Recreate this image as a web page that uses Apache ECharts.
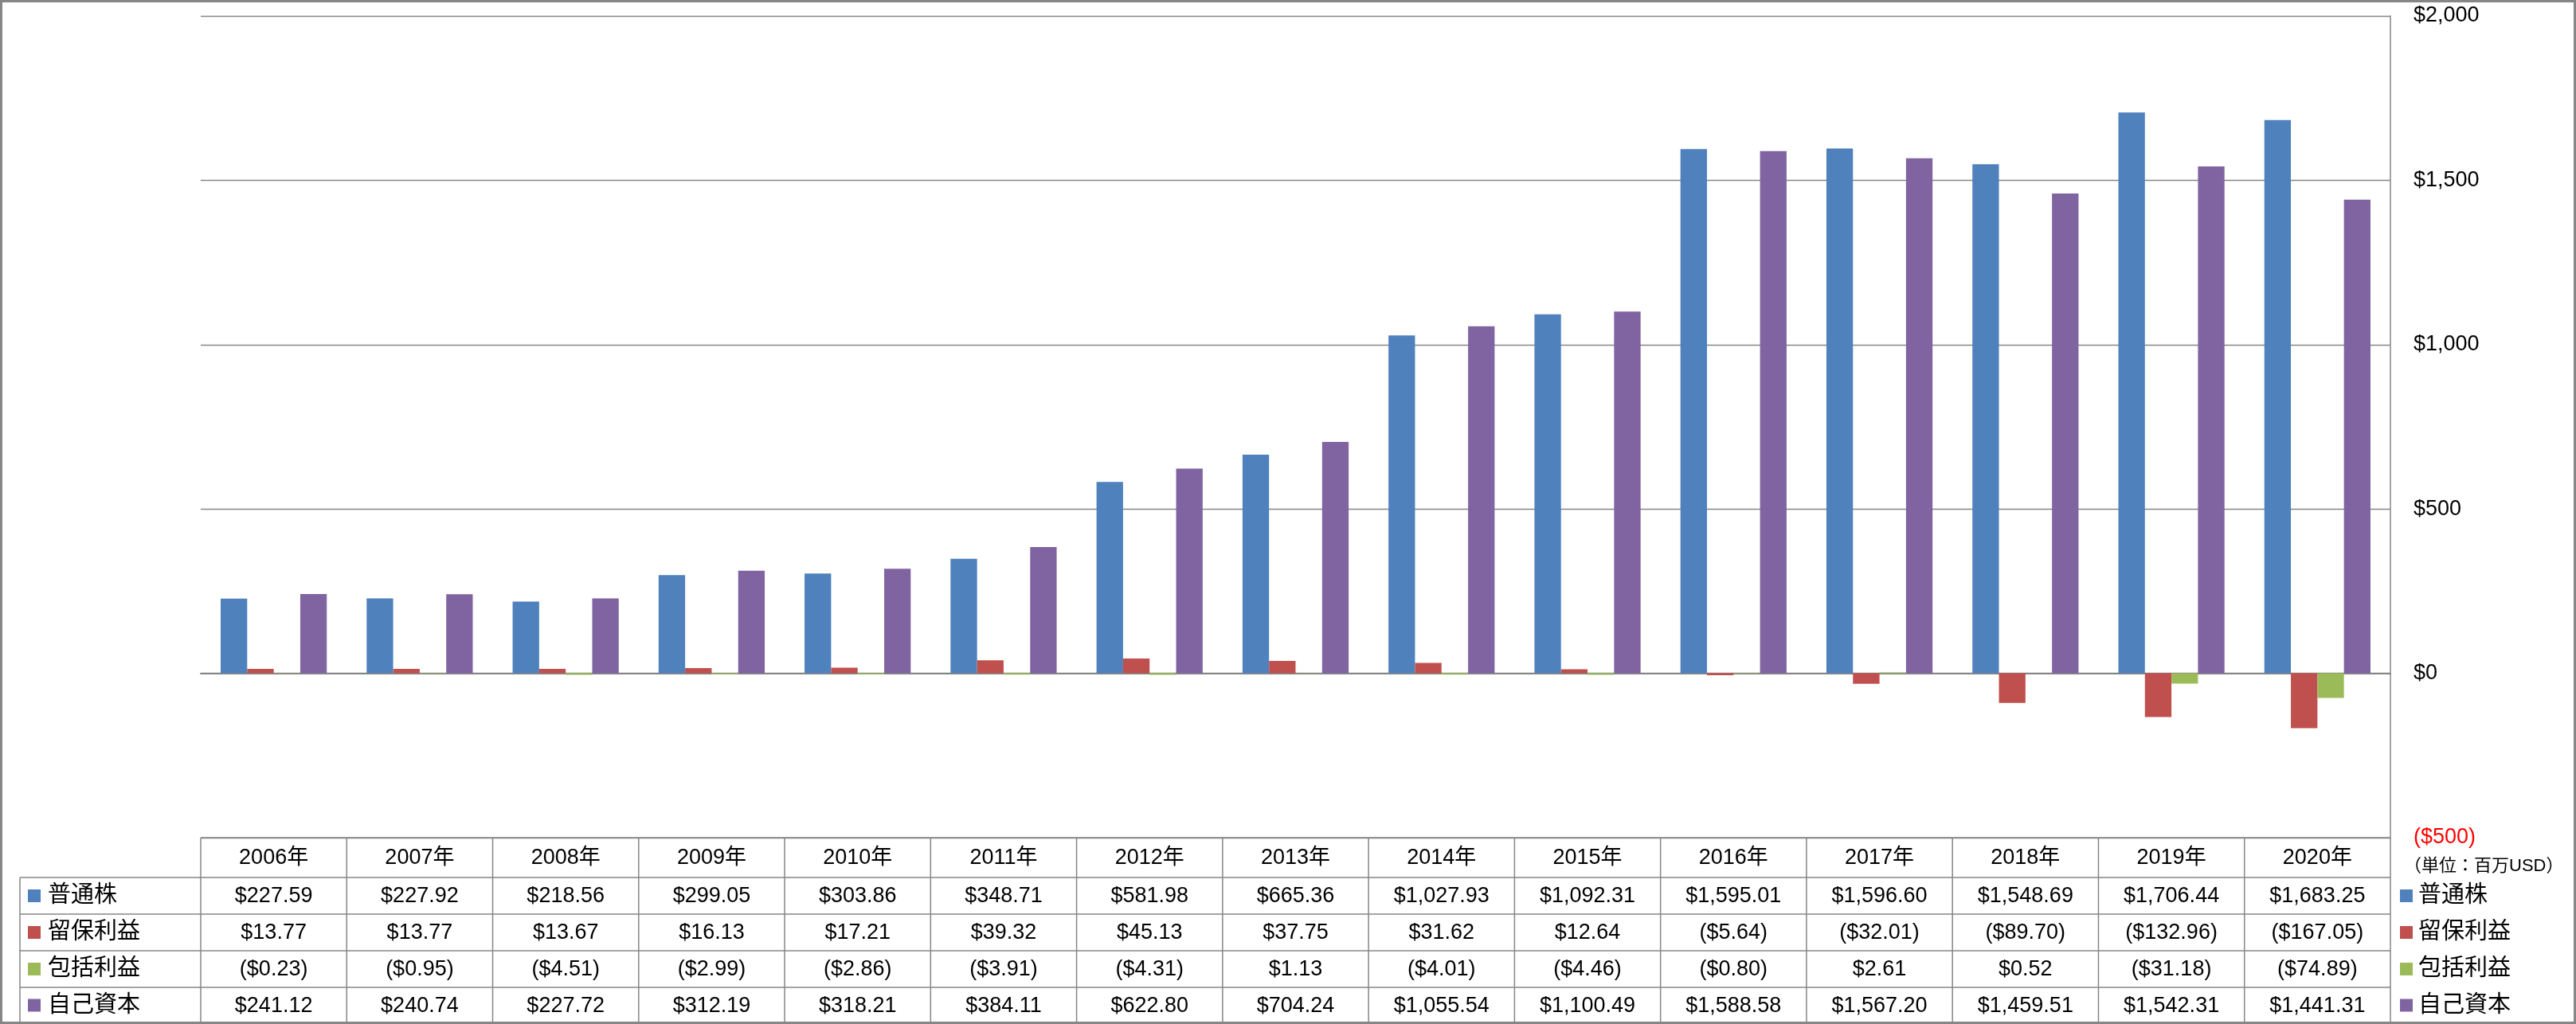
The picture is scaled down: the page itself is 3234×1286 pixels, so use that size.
<!DOCTYPE html>
<html><head><meta charset="utf-8">
<script src="https://cdn.jsdelivr.net/npm/echarts@6/dist/echarts.min.js"></script>
<style>html,body{margin:0;padding:0;background:#fff}#c{width:3234px;height:1286px}</style>
</head><body><div id="c"></div>
<script>
// ---- data ----
const years = ['2006年','2007年','2008年','2009年','2010年','2011年','2012年','2013年','2014年','2015年','2016年','2017年','2018年','2019年','2020年'];
const seriesNames = ['普通株','留保利益','包括利益','自己資本'];
const commonStock = [227.59,227.92,218.56,299.05,303.86,348.71,581.98,665.36,1027.93,1092.31,1595.01,1596.60,1548.69,1706.44,1683.25];
const retainedEarnings = [13.77,13.77,13.67,16.13,17.21,39.32,45.13,37.75,31.62,12.64,-5.64,-32.01,-89.70,-132.96,-167.05];
const comprehensiveIncome = [-0.23,-0.95,-4.51,-2.99,-2.86,-3.91,-4.31,1.13,-4.01,-4.46,-0.80,2.61,0.52,-31.18,-74.89];
const equity = [241.12,240.74,227.72,312.19,318.21,384.11,622.80,704.24,1055.54,1100.49,1588.58,1567.20,1459.51,1542.31,1441.31];
const yMin = -500, yMax = 2000, yInterval = 500;
const unitLabel = '（単位：百万USD）';

// ---- styles ----
const colors = ['#4F81BD','#C0504D','#9BBB59','#8064A2'];
const grey = '#868686';
const FONT = '"Liberation Sans","Noto Sans CJK JP",sans-serif';
const L = {gridLeft:252, gridRight:3001, gridTop:20, gridBottom:1052, rowLeft:25,
           rowLines:[1052,1102,1148,1194,1240,1285]};

function fmt(v){
  const s = Math.abs(v).toLocaleString('en-US',{minimumFractionDigits:2,maximumFractionDigits:2});
  return v < 0 ? '($' + s + ')' : '$' + s;
}
function fmtAxis(v){
  const s = Math.abs(v).toLocaleString('en-US');
  return v < 0 ? '($' + s + ')' : '$' + s;
}

const allSeries = [commonStock, retainedEarnings, comprehensiveIncome, equity];
const chart = echarts.init(document.getElementById('c'), null, {renderer:'canvas'});
chart.setOption({
  animation:false,
  backgroundColor:'#fff',
  grid:{left:L.gridLeft, right:3234-L.gridRight, top:L.gridTop, bottom:1286-L.gridBottom},
  xAxis:{type:'category', data:years, axisTick:{show:false}, axisLabel:{show:false},
         axisLine:{onZero:true, lineStyle:{color:grey, width:2}}, splitLine:{show:false}},
  yAxis:{type:'value', position:'right', min:yMin, max:yMax, interval:yInterval,
         axisLine:{show:true, lineStyle:{color:grey, width:1.5}}, axisTick:{show:false},
         splitLine:{lineStyle:{color:grey, width:1.3}},
         axisLabel:{margin:29, align:'left', fontSize:27, fontFamily:FONT,
                    formatter:fmtAxis, color:(v)=> (Number(v) < 0 ? '#FF0000' : '#000')}},
  series: seriesNames.map((n,i)=>({
    name:n, type:'bar', data:allSeries[i], barGap:'0%', barCategoryGap:'27.3%',
    itemStyle:{color:colors[i]}, silent:true
  }))
});

// ---- data table built from arrays ----
const g = [];
const x0 = chart.convertToPixel({xAxisIndex:0}, 0);
const x1 = chart.convertToPixel({xAxisIndex:0}, 1);
const cw = x1 - x0;
const R = L.rowLines;
function line(xa,ya,xb,yb,w){
  g.push({type:'line', silent:true, shape:{x1:xa,y1:ya,x2:xb,y2:yb}, style:{stroke:grey, lineWidth:w||1.5}});
}
function text(t,x,y,size,align,color){
  g.push({type:'text', silent:true, style:{text:t, x:x, y:y, font:size+'px '+FONT, fill:color||'#000',
     align:align||'center', verticalAlign:'middle', textAlign:align||'center', textVerticalAlign:'middle'}});
}
// horizontal lines
line(L.gridLeft, R[0], L.gridRight, R[0]);
for (let r=1;r<R.length;r++) line(L.rowLeft, R[r], L.gridRight, R[r]);
// vertical lines
line(L.rowLeft, R[1], L.rowLeft, R[5]);
for (let c=0;c<=years.length;c++){
  const xc = (c<years.length ? chart.convertToPixel({xAxisIndex:0}, c) - cw/2 : chart.convertToPixel({xAxisIndex:0}, years.length-1) + cw/2);
  line(xc, R[0], xc, R[5]);
}
// header
years.forEach((y,c)=> text(y, chart.convertToPixel({xAxisIndex:0}, c), (R[0]+R[1])/2+1, 27));
// rows
seriesNames.forEach((n,i)=>{
  const yc = (R[i+1]+R[i+2])/2;
  g.push({type:'rect', silent:true, shape:{x:35, y:yc-8, width:16, height:16}, style:{fill:colors[i]}});
  text(n, 60, yc, 29, 'left');
  allSeries[i].forEach((v,c)=> text(fmt(v), chart.convertToPixel({xAxisIndex:0}, c), yc+1, 27));
  // right legend
  g.push({type:'rect', silent:true, shape:{x:3013, y:yc-8, width:16, height:16}, style:{fill:colors[i]}});
  text(n, 3036, yc, 29, 'left');
});
text(unitLabel, 3018, 1088, 22, 'left');
// outer frame
g.push({type:'rect', silent:true, shape:{x:1.5, y:1.5, width:3231, height:1283}, style:{fill:'none', stroke:grey, lineWidth:3}});
chart.setOption({graphic:g});
</script></body></html>
